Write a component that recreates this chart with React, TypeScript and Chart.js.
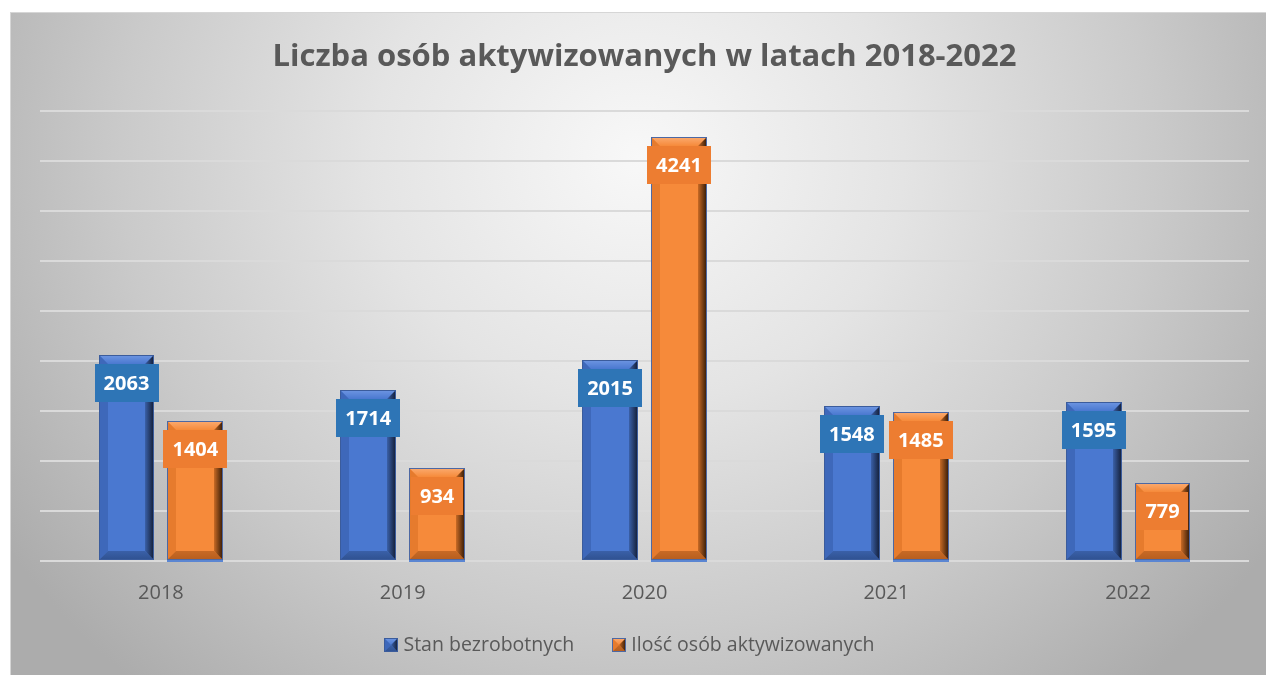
import { useEffect, useRef } from "react";
import { Chart, registerables } from "chart.js";

Chart.register(...registerables);

const CATEGORIES = ["2018", "2019", "2020", "2021", "2022"];
const UNEMPLOYED = [2063, 1714, 2015, 1548, 1595];
const ACTIVATED = [1404, 934, 4241, 1485, 779];
const SERIES_NAMES = ["Stan bezrobotnych", "Ilość osób aktywizowanych"];
const TITLE = "Liczba osób aktywizowanych w latach 2018-2022";
const Y_MAX = 4500;
const Y_STEP = 500;

const FONT = "'Open Sans', 'DejaVu Sans', sans-serif";
const W = 1256;
const H = 663;

type Pal = {
  face: string;
  light: string;
  left: string;
  bottom: string;
  mid: string;
  dark: string;
  label: string;
  border: string;
};

const PALETTES: Pal[] = [
  {
    face: "#4a78d0",
    light: "#6e96e2",
    left: "#3e68ba",
    bottom: "#2f5190",
    mid: "#3a60a8",
    dark: "#121c33",
    label: "#2e75b6",
    border: "#3b5c9c",
  },
  {
    face: "#f68a3a",
    light: "#fbab70",
    left: "#e67b2d",
    bottom: "#b65d1e",
    mid: "#c86a25",
    dark: "#301806",
    label: "#ed7d31",
    border: "#4d68a3",
  },
];

function drawBevel(
  ctx: CanvasRenderingContext2D,
  L: number,
  T: number,
  R: number,
  B: number,
  p: Pal,
  b: number
) {
  ctx.save();
  ctx.fillStyle = p.face;
  ctx.fillRect(L, T, R - L, B - T);
  let g = ctx.createLinearGradient(0, T, 0, T + b);
  g.addColorStop(0, p.light);
  g.addColorStop(1, p.face);
  ctx.fillStyle = g;
  ctx.beginPath();
  ctx.moveTo(L, T);
  ctx.lineTo(R, T);
  ctx.lineTo(R - b, T + b);
  ctx.lineTo(L + b, T + b);
  ctx.closePath();
  ctx.fill();
  ctx.fillStyle = p.left;
  ctx.beginPath();
  ctx.moveTo(L, T);
  ctx.lineTo(L + b, T + b);
  ctx.lineTo(L + b, B - b);
  ctx.lineTo(L, B);
  ctx.closePath();
  ctx.fill();
  g = ctx.createLinearGradient(0, B - b, 0, B);
  g.addColorStop(0, p.mid);
  g.addColorStop(1, p.bottom);
  ctx.fillStyle = g;
  ctx.beginPath();
  ctx.moveTo(L, B);
  ctx.lineTo(L + b, B - b);
  ctx.lineTo(R - b, B - b);
  ctx.lineTo(R, B);
  ctx.closePath();
  ctx.fill();
  g = ctx.createLinearGradient(R - b, 0, R, 0);
  g.addColorStop(0, p.mid);
  g.addColorStop(1, p.dark);
  ctx.fillStyle = g;
  ctx.beginPath();
  ctx.moveTo(R, T);
  ctx.lineTo(R, B);
  ctx.lineTo(R - b, B - b);
  ctx.lineTo(R - b, T + b);
  ctx.closePath();
  ctx.fill();
  ctx.strokeStyle = p.border;
  ctx.lineWidth = 1;
  ctx.strokeRect(L + 0.5, T + 0.5, R - L - 1, B - T - 1);
  ctx.restore();
}

const bevelPlugin = {
  id: "bevelBars",
  afterDatasetsDraw(chart: any) {
    const ctx: CanvasRenderingContext2D = chart.ctx;
    chart.data.datasets.forEach((_ds: any, di: number) => {
      const meta = chart.getDatasetMeta(di);
      const p = PALETTES[di];
      meta.data.forEach((bar: any) => {
        const { x, y, base, width } = bar.getProps(["x", "y", "base", "width"], true);
        const L = Math.round(x - width / 2);
        const R = Math.round(x + width / 2);
        if (di === 1) {
          ctx.save();
          ctx.fillStyle = "#5b86d2";
          ctx.fillRect(L, base, R - L, 2);
          ctx.restore();
        }
        drawBevel(ctx, L, Math.round(y), R, Math.round(base), p, 9);
      });
    });
    chart.data.datasets.forEach((ds: any, di: number) => {
      const meta = chart.getDatasetMeta(di);
      const p = PALETTES[di];
      meta.data.forEach((bar: any, i: number) => {
        const { x, y } = bar.getProps(["x", "y"], true);
        const text = String(ds.data[i]);
        ctx.save();
        ctx.font = `bold 20px ${FONT}`;
        const tw = ctx.measureText(text).width;
        const bw = tw + 18;
        const bh = 38;
        const top = Math.round(y) + 9;
        ctx.fillStyle = p.label;
        ctx.fillRect(Math.round(x - bw / 2), top, Math.round(bw), bh);
        ctx.fillStyle = "#ffffff";
        ctx.textAlign = "center";
        ctx.textBaseline = "middle";
        ctx.fillText(text, x, top + bh / 2 + 1);
        ctx.restore();
      });
    });
  },
};

const legendPlugin = {
  id: "customLegend",
  afterDraw(chart: any) {
    const ctx: CanvasRenderingContext2D = chart.ctx;
    ctx.save();
    ctx.font = `19.5px ${FONT}`;
    const box = 14;
    const gap = 5;
    const itemGap = 38;
    const widths = SERIES_NAMES.map((n) => box + gap + ctx.measureText(n).width);
    const total = widths.reduce((a, b) => a + b, 0) + itemGap * (SERIES_NAMES.length - 1);
    const cx = (chart.chartArea.left + chart.chartArea.right) / 2 - 15;
    let x = cx - total / 2;
    const yc = chart.height - 30;
    SERIES_NAMES.forEach((n, i) => {
      drawBevel(ctx, Math.round(x), Math.round(yc - box / 2), Math.round(x) + box, Math.round(yc - box / 2) + box, PALETTES[i], 7);
      ctx.fillStyle = "#595959";
      ctx.textAlign = "left";
      ctx.textBaseline = "middle";
      ctx.fillText(n, x + box + gap, yc);
      x += widths[i] + itemGap;
    });
    ctx.restore();
  },
};

export default function App() {
  const ref = useRef<HTMLCanvasElement | null>(null);

  useEffect(() => {
    if (!ref.current) return;
    const chart = new Chart(ref.current, {
      type: "bar",
      data: {
        labels: CATEGORIES,
        datasets: [
          {
            label: SERIES_NAMES[0],
            data: UNEMPLOYED,
            backgroundColor: "rgba(0,0,0,0)",
            borderWidth: 0,
            categoryPercentage: 0.57,
            barPercentage: 0.81,
          },
          {
            label: SERIES_NAMES[1],
            data: ACTIVATED,
            backgroundColor: "rgba(0,0,0,0)",
            borderWidth: 0,
            categoryPercentage: 0.57,
            barPercentage: 0.81,
          },
        ],
      },
      options: {
        responsive: false,
        animation: false,
        devicePixelRatio: 1,
        layout: { padding: { left: 30, right: 17, top: 0, bottom: 49 } },
        plugins: {
          legend: { display: false },
          tooltip: { enabled: false },
          title: {
            display: true,
            text: TITLE,
            color: "#595959",
            font: { family: FONT, size: 31, weight: "bold" },
            padding: { top: 26.2, bottom: 35.6 },
          },
        },
        scales: {
          x: {
            grid: { display: false, drawTicks: false },
            border: { display: false },
            ticks: {
              color: "#595959",
              font: { family: FONT, size: 20 },
              padding: 20,
            },
            afterFit: (axis: any) => {
              axis.height = 65;
            },
          },
          y: {
            min: 0,
            max: Y_MAX,
            grid: { color: "#dadada", lineWidth: 2, drawTicks: false },
            border: { display: false },
            ticks: { display: false, stepSize: Y_STEP },
            afterFit: (axis: any) => {
              axis.width = 0;
            },
          },
        },
      },
      plugins: [bevelPlugin, legendPlugin],
    });
    return () => chart.destroy();
  }, []);

  return (
    <div
      style={{
        position: "fixed",
        left: 10,
        top: 12,
        width: W,
        height: H,
        background:
          "radial-gradient(ellipse 760px 700px at 50% 22%, #f8f8f8 0%, #e4e4e4 35%, #cacaca 68%, #acacac 100%)",
        boxShadow: "inset 1px 1px 0 #d6d6d6",
      }}
    >
      <canvas ref={ref} width={W} height={H} style={{ display: "block", width: W, height: H }} />
    </div>
  );
}
